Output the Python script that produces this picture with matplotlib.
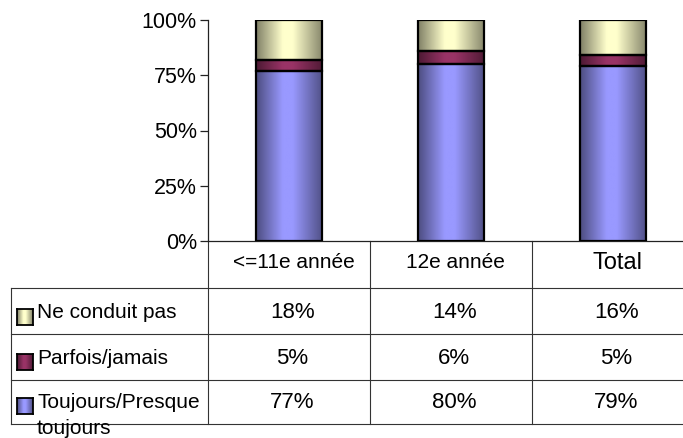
import numpy as np
import matplotlib
matplotlib.use("Agg")
import matplotlib.pyplot as plt
from matplotlib.transforms import blended_transform_factory
from matplotlib.colors import to_rgb
from matplotlib.lines import Line2D

plt.rcParams['font.family'] = ['Liberation Sans', 'DejaVu Sans']

categories = ['<=11e année', '12e année', 'Total']
series_names = ['Ne conduit pas', 'Parfois/jamais', 'Toujours/Presque\ntoujours']
toujours = [77, 80, 79]
parfois = [5, 6, 5]
ne_conduit = [18, 14, 16]
yticks = [0, 25, 50, 75, 100]
ytick_labels = ['0%', '25%', '50%', '75%', '100%']

col_toujours = '#9999FF'
col_parfois = '#993366'
col_ne = '#FFFFCC'

W, H = 683, 438
fig = plt.figure(figsize=(W / 100, H / 100), dpi=100)

def fx(x):
    return x / W

def fy(y):
    return 1 - y / H

ax = fig.add_axes([fx(208), fy(241), (694 - 208) / W, (241 - 20) / H])
ax.set_facecolor('none')
for s in ['top', 'right']:
    ax.spines[s].set_visible(False)
for s in ['left', 'bottom']:
    ax.spines[s].set_color('#222222')
    ax.spines[s].set_linewidth(0.9)
ax.set_yticks(yticks)
ax.set_yticklabels(ytick_labels, fontsize=15.5)
ax.tick_params(axis='y', length=6, width=0.9, color='#222222', pad=2)
ax.set_xticks([])

x = np.arange(len(categories))
bw = 0.41
b1 = ax.bar(x, toujours, bw, color='none', edgecolor='black', linewidth=1.6, zorder=3)
b2 = ax.bar(x, parfois, bw, bottom=toujours, color='none', edgecolor='black', linewidth=1.6, zorder=3)
bot3 = [a + b for a, b in zip(toujours, parfois)]
b3 = ax.bar(x, ne_conduit, bw, bottom=bot3, color='none', edgecolor='black', linewidth=1.6, zorder=3)

def gradient_img(color, n=200):
    t = np.linspace(0, 1, n)
    f = np.interp(t, [0, 0.4, 0.55, 1.0], [0.5, 1.0, 1.0, 0.52])
    c = np.array(to_rgb(color))
    img = np.clip(c[None, :] * f[:, None], 0, 1)
    return img[None, :, :]

for bars, col in [(b1, col_toujours), (b2, col_parfois), (b3, col_ne)]:
    img = gradient_img(col)
    for p in bars:
        x0, y0, w, h = p.get_x(), p.get_y(), p.get_width(), p.get_height()
        ax.imshow(img, extent=[x0, x0 + w, y0, y0 + h], aspect='auto', zorder=2,
                  interpolation='bilinear')
ax.set_xlim(-0.5, 2.5)
ax.set_ylim(0, 100)

# Table
line_col = '#333333'
lw = 0.8
trans = blended_transform_factory(ax.transData, fig.transFigure)
bounds = [-0.5, 0.5, 1.5]
for b in bounds:
    ax.add_line(Line2D([b, b], [fy(241), fy(424)], transform=trans, color=line_col,
                       lw=lw, clip_on=False))
row_lines = [288, 334, 380, 424]
for ry in row_lines:
    fig.add_artist(Line2D([fx(11), 1], [fy(ry), fy(ry)], color=line_col, lw=lw))
fig.add_artist(Line2D([fx(11), fx(11)], [fy(288), fy(424)], color=line_col, lw=lw))

# header
for i, c in enumerate(categories):
    fs = 17 if c == 'Total' else 15
    ax.text(i + 0.03, fy(263), c, transform=trans, ha='center', va='center', fontsize=fs)

rows = [ne_conduit, parfois, toujours]
row_cols = [col_ne, col_parfois, col_toujours]
row_centers = [313, 358, 402]
for r, (vals, col, name, yc) in enumerate(zip(rows, row_cols, series_names, row_centers)):
    for i, v in enumerate(vals):
        ax.text(i + 0.02, fy(yc), f'{v}%', transform=trans, ha='center', va='center', fontsize=16)
    # key box
    kx, ky, kw, kh = 17, yc - 4, 16, 16
    rect_ax = fig.add_axes([fx(kx), fy(ky + kh), kw / W, kh / H])
    rect_ax.imshow(gradient_img(col, 50), aspect='auto', extent=[0, 1, 0, 1])
    rect_ax.set_xticks([]); rect_ax.set_yticks([])
    for s in rect_ax.spines.values():
        s.set_linewidth(1.3)
        s.set_color('black')
    if r == 2:
        fig.text(fx(37), fy(yc + 1), 'Toujours/Presque', ha='left', va='center', fontsize=15)
        fig.text(fx(37), fy(428), 'toujours', ha='left', va='center', fontsize=15)
    else:
        fig.text(fx(37), fy(yc), name, ha='left', va='center', fontsize=15)

fig.savefig('out.png', dpi=100)
